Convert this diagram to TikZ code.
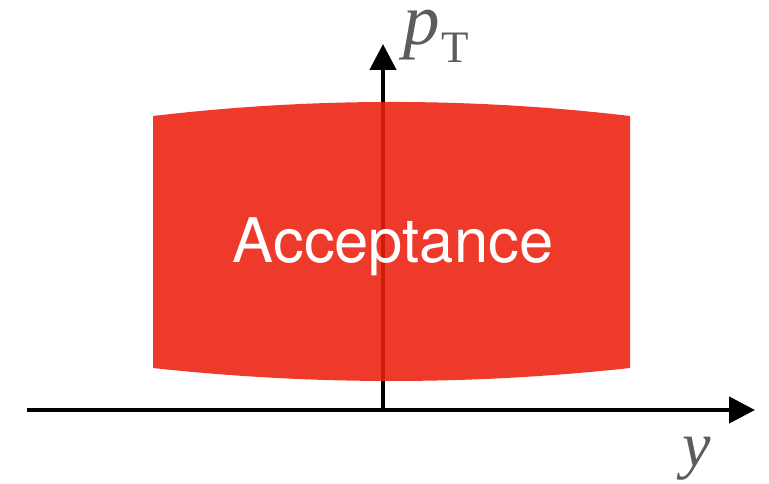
\documentclass[tikz,border=0pt]{standalone}
\usepackage{fontspec}
\usepackage{xcolor}
\usepackage{tikz}
\usetikzlibrary{arrows.meta, positioning, calc}
\setsansfont{TeX Gyre Heros}
\newfontfamily\axisfont{Liberation Serif}
\definecolor{accred}{RGB}{236,31,12}
\definecolor{axisgray}{RGB}{92,92,92}
\tikzset{
  axis/.style={line width=4.6pt, color=black,
    -{Triangle[length=26pt, width=26pt]}},
  accbox/.style={fill=accred, fill opacity=0.88, draw=none},
  acclabel/.style={text=white, font=\sffamily\fontsize{61.5}{70}\selectfont,
    anchor=base, inner sep=0pt},
  axlabel/.style={text=axisgray, anchor=base west, inner sep=0pt}
}

\begin{document}
\begin{tikzpicture}[x=1pt, y=-1pt]
  \useasboundingbox (0,0) rectangle (769,484);

  % axes
  \coordinate (origin) at (383,410);
  \coordinate (xstart) at (27,410);
  \coordinate (xend) at (755,410);
  \coordinate (yend) at (383,44);
  \draw[axis] (origin) -- (yend);
  \draw[axis] (xstart) -- (xend);

  % acceptance region
  \path[accbox] (153,116) .. controls (312,97.3) and (471,97.3) .. (630,116)
    -- (630,368) .. controls (471,385.3) and (312,385.3) .. (153,368) -- cycle;
  \node[acclabel] (acc) at (393,262) {Acceptance};

  % labels
  \node[axlabel, text height=30pt] (pt) at (403,45)
    {\axisfont\fontsize{73}{70}\selectfont\itshape p\kern2pt\raisebox{-18pt}{\upshape\fontsize{45}{50}\selectfont T}};
  \node[axlabel, text height=30pt] (rap) at (682,466)
    {\axisfont\fontsize{64}{70}\selectfont\itshape y};
\end{tikzpicture}
\end{document}
